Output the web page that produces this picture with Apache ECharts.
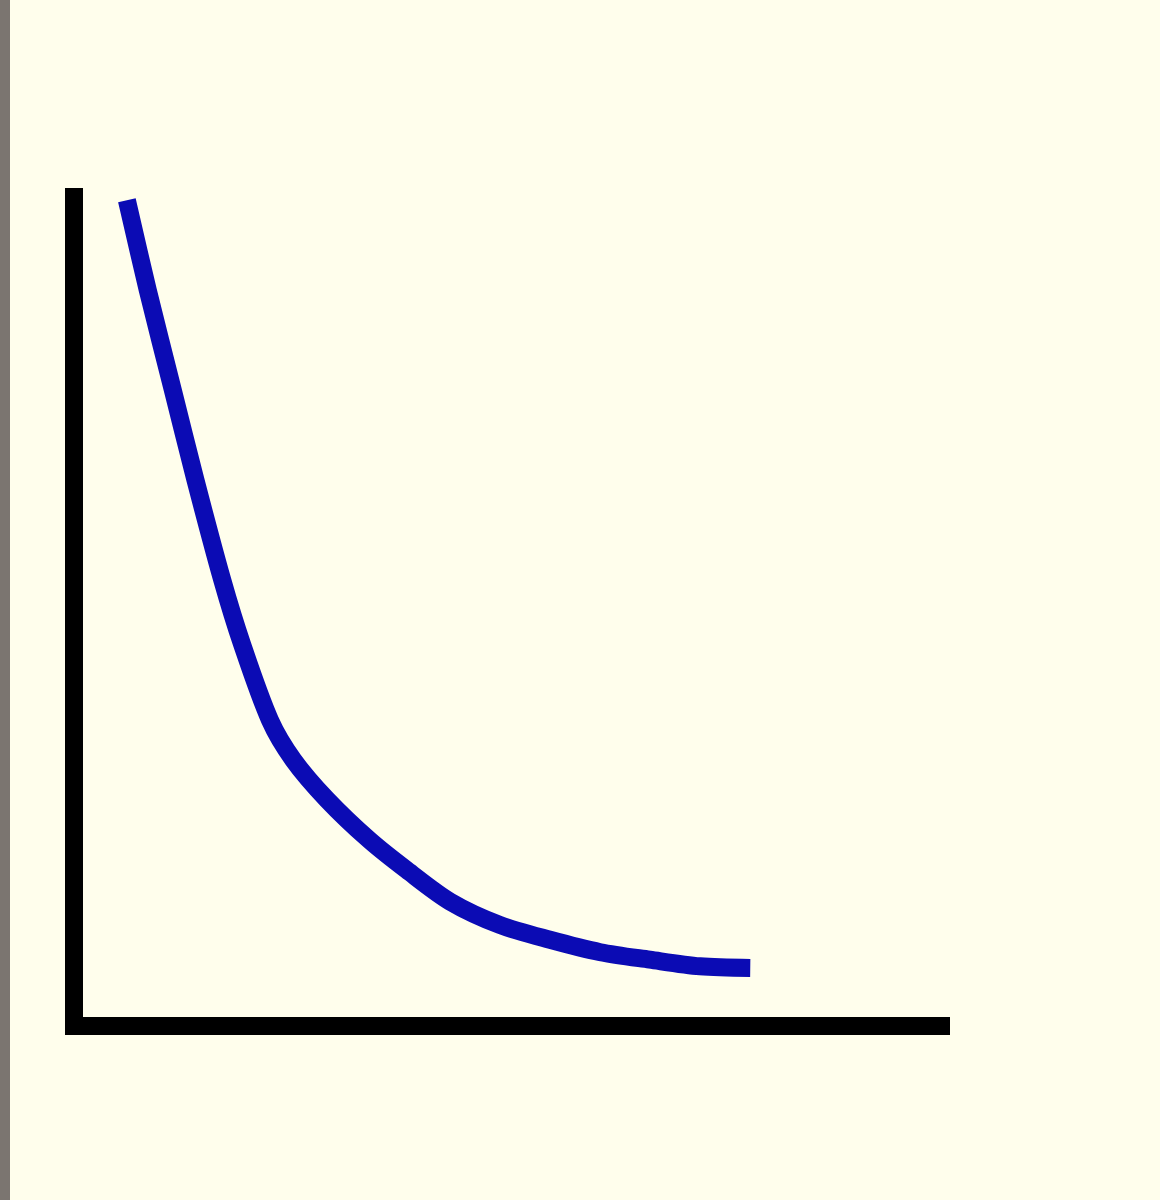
<!DOCTYPE html>
<html>
<head>
<meta charset="utf-8">
<script src="https://cdn.jsdelivr.net/npm/echarts@6/dist/echarts.min.js"></script>
<style>
  html, body { margin: 0; padding: 0; background: #fffeec; }
  #edge { position: absolute; left: 0; top: 0; width: 10px; height: 1200px; background: #7b7570; }
  #chart { position: absolute; left: 0; top: 0; width: 1160px; height: 1200px; }
</style>
</head>
<body>
<div id="chart"></div>
<div id="edge"></div>
<script>
// decay curve (x, y in 0..100 axis units)
const xs = [6.1, 8.5, 11.4, 14.0, 17.1, 19.4, 22.6, 25.3, 29.2, 34.1, 38.4, 43.4, 49.1, 54.9, 60.7, 66.4, 72.2, 78.0];
const ys = [99.6, 88.8, 76.7, 65.9, 53.8, 46.0, 36.9, 32.1, 27.3, 22.4, 18.8, 15.0, 12.2, 10.4, 8.9, 8.0, 7.2, 7.0];

const chart = echarts.init(document.getElementById("chart"));
chart.setOption({
  backgroundColor: "#fffeec",
  animation: false,
  grid: { left: 74, right: 219, top: 197, bottom: 174, containLabel: false },
  xAxis: {
    type: "value", min: 0, max: 100,
    axisLine: { lineStyle: { color: "#000", width: 18, cap: "square" } },
    axisTick: { show: false }, axisLabel: { show: false }, splitLine: { show: false }
  },
  yAxis: {
    type: "value", min: 0, max: 100,
    axisLine: { show: true, lineStyle: { color: "#000", width: 18, cap: "square" } },
    axisTick: { show: false }, axisLabel: { show: false }, splitLine: { show: false }
  },
  series: [{
    type: "line",
    data: xs.map((x, i) => [x, ys[i]]),
    smooth: 0.3,
    symbol: "none",
    lineStyle: { color: "#0b0bb4", width: 18, cap: "butt", join: "round" }
  }]
});
</script>
</body>
</html>
